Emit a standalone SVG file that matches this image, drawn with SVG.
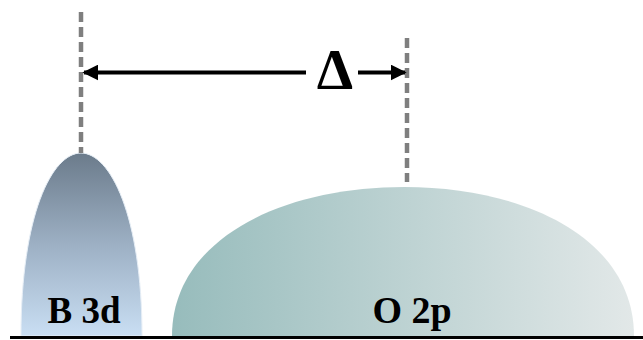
<svg xmlns="http://www.w3.org/2000/svg" width="643" height="340" viewBox="0 0 643 340">
<style>
.dash{stroke:#7f7f7f;stroke-width:4.5;stroke-dasharray:10,5;fill:none}
.arr{stroke:#000;stroke-width:4;fill:none}
.lbl{font-weight:bold;fill:#000;text-anchor:middle}
</style>
<defs>
<linearGradient id="gB" x1="0" y1="0" x2="0" y2="1">
<stop offset="0" stop-color="#6b7b8b"/>
<stop offset="0.5" stop-color="#9db0c4"/>
<stop offset="1" stop-color="#c9def3"/>
</linearGradient>
<linearGradient id="gO" x1="0" y1="0" x2="1" y2="0">
<stop offset="0" stop-color="#97bcbc"/>
<stop offset="1" stop-color="#e2e8e8"/>
</linearGradient>
<marker id="ah" viewBox="0 0 10 10" refX="9" refY="5" markerWidth="4" markerHeight="4" orient="auto-start-reverse">
<path d="M0,0 L10,5 L0,10 Z" fill="#000"/>
</marker>
</defs>
<g id="B3d">
<path d="M21,336 C21,215 52,153 81,153 C110,153 142,215 142,336 Z" fill="url(#gB)" stroke="#e6eef6" stroke-width="1"/>
<text class="lbl" x="84" y="323" font-size="37" font-family="Liberation Serif, serif">B 3d</text>
</g>
<g id="O2p">
<path d="M172,336 C172,240 280,187 404,187 C528,187 634,240 634,336 Z" fill="url(#gO)"/>
<text class="lbl" x="412" y="323" font-size="38" font-family="Liberation Serif, serif">O 2p</text>
</g>
<g id="connectors">
<line x1="10" y1="337.5" x2="643" y2="337.5" stroke="#000" stroke-width="3"/>
<line class="dash" x1="81" y1="12" x2="81" y2="153"/>
<line class="dash" x1="407" y1="38" x2="407" y2="182"/>
<line class="arr" x1="84" y1="72.5" x2="306" y2="72.5" marker-start="url(#ah)"/>
<line class="arr" x1="358" y1="72.5" x2="405" y2="72.5" marker-end="url(#ah)"/>
<text class="lbl" x="335" y="89" font-size="58" font-family="Liberation Serif, serif">Δ</text>
</g>
</svg>
